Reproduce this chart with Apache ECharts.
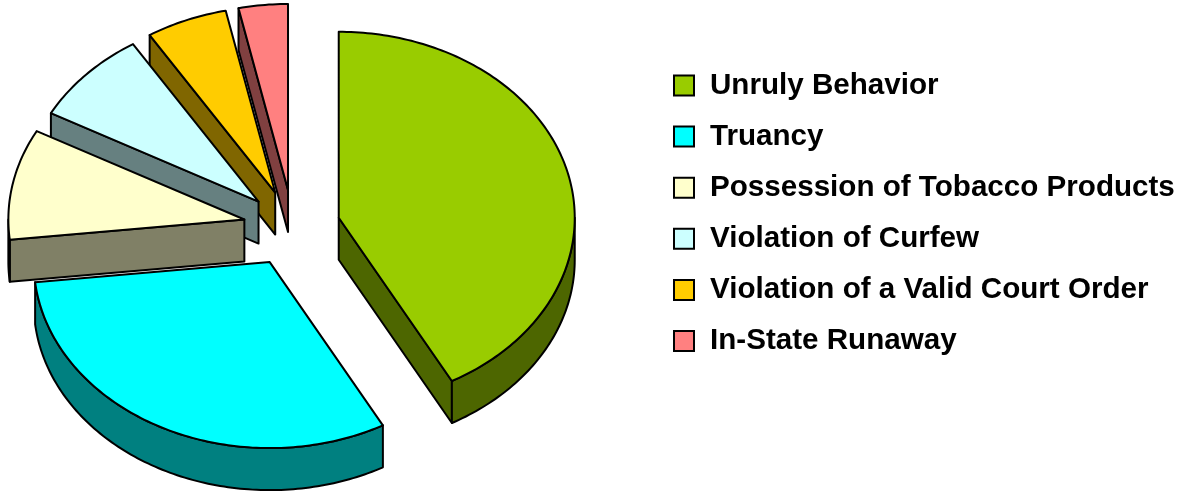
<!DOCTYPE html>
<html>
<head>
<meta charset="utf-8">
<style>
  html, body { margin: 0; padding: 0; background: #fff; }
  #main { width: 1188px; height: 495px; }
</style>
<script src="https://cdn.jsdelivr.net/npm/echarts@6/dist/echarts.min.js"></script>
</head>
<body>
<div id="main"></div>
<script>
// shares of the pie, in percent
const categories = ['Unruly Behavior', 'Truancy', 'Possession of Tobacco Products', 'Violation of Curfew', 'Violation of a Valid Court Order', 'In-State Runaway'];
const shares = [42, 31.2, 9.6, 8.18, 5.56, 3.36];
const colors = ['#99CC00', '#00FFFF', '#FFFFCC', '#CCFFFF', '#FFCC00', '#FF8080'];
const wallColors = ['#4D6600', '#008080', '#808066', '#668080', '#806600', '#804040'];

// tilted pie layout
const cx = 293, cy = 227, rx = 236, ry = 186, depth = 42;
const explode = [0.2, 0.213, 0.21, 0.2, 0.2, 0.2];
const total = shares.reduce((a, b) => a + b, 0);
const lineStyle = { stroke: '#000', lineWidth: 2, lineJoin: 'round' };

function onEllipse(o, deg) {
  const t = deg * Math.PI / 180;
  return [o[0] + rx * Math.sin(t), o[1] - ry * Math.cos(t)];
}

function arc(o, from, to) {
  const pts = [];
  const n = Math.max(2, Math.ceil(Math.abs(to - from)));
  for (let i = 0; i <= n; i++) pts.push(onEllipse(o, from + (to - from) * i / n));
  return pts;
}

function down(p) {
  return [p[0], p[1] + depth];
}

function poly(points, fill) {
  return { type: 'polygon', shape: { points }, style: Object.assign({ fill }, lineStyle) };
}

function sliceItem(i) {
  return function () {
    const before = shares.slice(0, i).reduce((a, b) => a + b, 0);
    const a0 = before / total * 360;
    const a1 = (before + shares[i]) / total * 360;
    const mid = (a0 + a1) / 2 * Math.PI / 180;
    // each slice is pulled out along its own middle angle
    const o = [cx + explode[i] * rx * Math.sin(mid), cy - explode[i] * ry * Math.cos(mid)];
    const wall = wallColors[i];
    const children = [];

    if (Math.sin(a0 * Math.PI / 180) < -1e-6) {
      const p = onEllipse(o, a0);
      children.push(poly([o, p, down(p), down(o)], wall));
    }
    if (Math.sin(a1 * Math.PI / 180) > 1e-6) {
      const p = onEllipse(o, a1);
      children.push(poly([o, p, down(p), down(o)], wall));
    }
    // outer wall only shows on the front half
    const f0 = Math.max(a0, 90), f1 = Math.min(a1, 270);
    if (f1 > f0) {
      const top = arc(o, f0, f1);
      children.push(poly(top.concat(top.map(down).reverse()), wall));
    }
    children.push(poly([o].concat(arc(o, a0, a1)), colors[i]));
    return { type: 'group', children };
  };
}

const chart = echarts.init(document.getElementById('main'), null, { renderer: 'canvas' });
chart.setOption({
  animation: false,
  backgroundColor: '#fff',
  legend: {
    orient: 'vertical',
    left: 668,
    top: 65.5,
    itemWidth: 20,
    itemHeight: 20,
    itemGap: 21.1,
    icon: 'rect',
    selectedMode: false,
    itemStyle: { borderColor: '#000', borderWidth: 2 },
    textStyle: {
      fontFamily: '"Liberation Sans", Arial, sans-serif',
      fontWeight: 'bold',
      fontSize: 29.6,
      color: '#000',
      padding: [0, 0, 0, 11]
    },
    data: categories
  },
  series: categories.map((name, i) => ({
    type: 'custom',
    name,
    coordinateSystem: 'none',
    z: 6 - i,
    silent: true,
    itemStyle: { color: colors[i] },
    data: [shares[i]],
    renderItem: sliceItem(i)
  }))
});
</script>
</body>
</html>
